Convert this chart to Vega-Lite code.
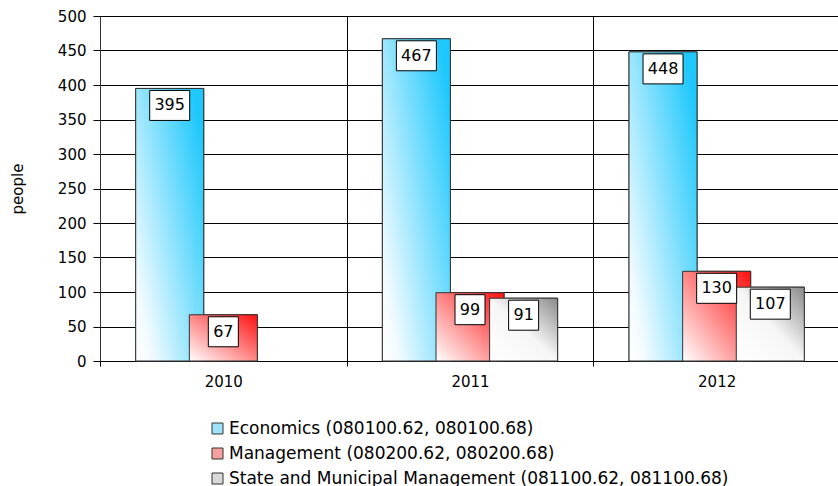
{
  "$schema": "https://vega.github.io/schema/vega-lite/v6.json",
  "width": 740,
  "height": 345,
  "padding": {"left": 10, "top": 9, "right": 0, "bottom": 0},
  "background": "white",
  "config": {
    "view": {"stroke": null},
    "font": "DejaVu Sans",
    "axis": {"labelFont": "DejaVu Sans", "titleFont": "DejaVu Sans", "labelColor": "#000", "titleColor": "#000"}
  },
  "data": {
    "values": [
      {"year": "2010", "program": "Economics (080100.62, 080100.68)", "value": 395},
      {"year": "2010", "program": "Management (080200.62, 080200.68)", "value": 67},
      {"year": "2011", "program": "Economics (080100.62, 080100.68)", "value": 467},
      {"year": "2011", "program": "Management (080200.62, 080200.68)", "value": 99},
      {"year": "2011", "program": "State and Municipal Management (081100.62, 081100.68)", "value": 91},
      {"year": "2012", "program": "Economics (080100.62, 080100.68)", "value": 448},
      {"year": "2012", "program": "Management (080200.62, 080200.68)", "value": 130},
      {"year": "2012", "program": "State and Municipal Management (081100.62, 081100.68)", "value": 107}
    ]
  },
  "encoding": {
    "x": {
      "field": "year", "type": "nominal",
      "scale": {"paddingInner": 0, "paddingOuter": 0},
      "axis": {
        "title": null, "labelAngle": 0, "tickBand": "extent", "grid": true,
        "gridColor": "#000", "gridOpacity": 1, "gridWidth": 1,
        "domainColor": "#000", "tickColor": "#000", "tickSize": 5,
        "labelFontSize": 15, "labelPadding": 8
      }
    },
    "xOffset": {
      "field": "program", "type": "nominal",
      "scale": {
        "domain": ["Economics (080100.62, 080100.68)", "Management (080200.62, 080200.68)", "State and Municipal Management (081100.62, 081100.68)"],
        "paddingInner": 0, "paddingOuter": 0.8
      }
    },
    "y": {
      "field": "value", "type": "quantitative",
      "scale": {"domain": [0, 500], "nice": false},
      "axis": {
        "title": "people", "values": [0, 50, 100, 150, 200, 250, 300, 350, 400, 450, 500],
        "grid": true, "gridColor": "#000", "gridOpacity": 1,
        "domainColor": "#333", "tickColor": "#000", "tickSize": 7, "labelPadding": 7,
        "labelFontSize": 15, "titleFontSize": 15, "titleFontWeight": "normal", "titlePadding": 32
      }
    }
  },
  "layer": [
    {
      "mark": {"type": "bar", "width": 68, "stroke": "#333", "strokeWidth": 1},
      "encoding": {
        "color": {
          "field": "program", "type": "nominal",
          "scale": {
            "domain": ["Economics (080100.62, 080100.68)", "Management (080200.62, 080200.68)", "State and Municipal Management (081100.62, 081100.68)"],
            "range": ["#9ee2fb", "#f7a0a0", "#d8d8d8"]
          },
          "legend": {
            "title": null, "orient": "none", "legendX": 109, "legendY": 404,
            "direction": "vertical", "symbolType": "square", "symbolSize": 121,
            "symbolStrokeColor": "#333", "symbolStrokeWidth": 1, "symbolOpacity": 1,
            "labelFontSize": 17, "labelFont": "DejaVu Sans", "labelColor": "#000",
            "rowPadding": 7, "labelOffset": 3, "padding": 0, "labelLimit": 700
          }
        }
      }
    },
    {
      "transform": [{"filter": "datum.program == 'Economics (080100.62, 080100.68)'"}],
      "mark": {"type": "bar", "width": 68, "stroke": "#333", "strokeWidth": 1,
        "fill": {"gradient": "linear", "x1": 0, "y1": 1, "x2": 1, "y2": 0.2, "stops": [{"offset": 0, "color": "#ffffff"}, {"offset": 0.15, "color": "#f2fbff"}, {"offset": 1, "color": "#1ec8fc"}]}}
    },
    {
      "transform": [{"filter": "datum.program == 'Management (080200.62, 080200.68)'"}],
      "mark": {"type": "bar", "width": 68, "stroke": "#333", "strokeWidth": 1,
        "fill": {"gradient": "linear", "x1": 0, "y1": 1, "x2": 1, "y2": 0, "stops": [{"offset": 0, "color": "#ffffff"}, {"offset": 1, "color": "#ff1010"}]}}
    },
    {
      "transform": [{"filter": "datum.program == 'State and Municipal Management (081100.62, 081100.68)'"}],
      "mark": {"type": "bar", "width": 68, "stroke": "#333", "strokeWidth": 1,
        "fill": {"gradient": "linear", "x1": 0, "y1": 1, "x2": 1, "y2": 0, "stops": [{"offset": 0, "color": "#ffffff"}, {"offset": 0.5, "color": "#f6f6f6"}, {"offset": 1, "color": "#8a8a8a"}]}}
    },
    {
      "transform": [{"filter": "datum.value >= 100"}],
      "mark": {"type": "point", "shape": "M-1,-0.75L1,-0.75L1,0.75L-1,0.75Z", "size": 1600, "filled": true, "fill": "white", "stroke": "#000", "strokeWidth": 1, "opacity": 1, "yOffset": 17}
    },
    {
      "transform": [{"filter": "datum.value < 100"}],
      "mark": {"type": "point", "shape": "M-1,-1L1,-1L1,1L-1,1Z", "size": 900, "filled": true, "fill": "white", "stroke": "#000", "strokeWidth": 1, "opacity": 1, "yOffset": 17}
    },
    {
      "mark": {"type": "text", "fontSize": 16, "font": "DejaVu Sans", "color": "#000", "baseline": "middle", "align": "center", "yOffset": 17},
      "encoding": {"text": {"field": "value", "type": "quantitative"}}
    }
  ]
}
